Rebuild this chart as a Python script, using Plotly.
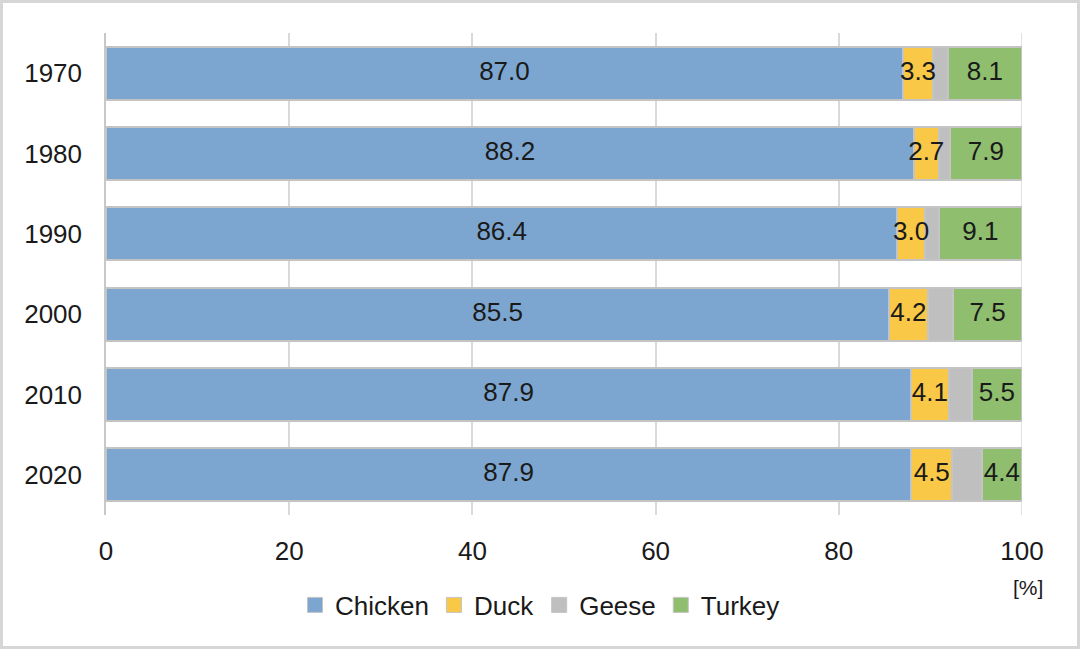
import plotly.graph_objects as go

years = ["1970", "1980", "1990", "2000", "2010", "2020"]
chicken = [87.0, 88.2, 86.4, 85.5, 87.9, 87.9]
duck = [3.3, 2.7, 3.0, 4.2, 4.1, 4.5]
geese = [1.6, 1.2, 1.5, 2.8, 2.5, 3.2]
turkey = [8.1, 7.9, 9.1, 7.5, 5.5, 4.4]
series_names = ["Chicken", "Duck", "Geese", "Turkey"]
colors = ["#7CA6CF", "#F9C846", "#BFBFBF", "#8FBE6E"]
show_text = [True, True, False, True]

W, H = 1080, 649
L, R, T, B = 106, 58, 33, 134
pw, ph = W - L - R, H - T - B
FONT = "Arial, Liberation Sans, sans-serif"
FS = 26

series = [chicken, duck, geese, turkey]

fig = go.Figure()
for name, vals, col in zip(series_names, series, colors):
    fig.add_trace(go.Bar(
        y=years, x=vals, name=name, orientation="h",
        marker=dict(color=col, line=dict(color="#C4C4C4", width=2)),
        showlegend=False, hoverinfo="skip",
    ))

# value labels on top of all bars
base = [0.0] * len(years)
for name, vals, st in zip(series_names, series, show_text):
    mids = [b + v / 2 for b, v in zip(base, vals)]
    if st:
        fig.add_trace(go.Scatter(
            x=mids, y=years, mode="text", text=[f"{v:.1f}" for v in vals],
            textposition="middle center",
            textfont=dict(family=FONT, size=FS, color="#1a1a1a"),
            showlegend=False, hoverinfo="skip", cliponaxis=False,
        ))
    base = [b + v for b, v in zip(base, vals)]

# legend entries
for name, col in zip(series_names, colors):
    fig.add_trace(go.Scatter(
        x=[None], y=[None], mode="markers", name=name,
        marker=dict(symbol="square", size=15, color=col, line=dict(color="#C4C4C4", width=1)),
    ))

def px_x(p):
    return (p - L) / pw

def px_y(p):
    return (H - B - p) / ph

fig.update_layout(
    barmode="stack",
    bargap=0.34,
    width=W, height=H,
    margin=dict(l=L, r=R, t=T, b=B),
    paper_bgcolor="white",
    plot_bgcolor="white",
    font=dict(family=FONT, size=FS, color="#1a1a1a"),
    xaxis=dict(range=[0, 100], dtick=20, showgrid=True, gridcolor="#D9D9D9", gridwidth=1.5,
               zeroline=False, showline=False, ticks="", ticklabelstandoff=18,
               tickfont=dict(size=FS, color="#1a1a1a")),
    yaxis=dict(autorange="reversed", showgrid=False, zeroline=False, showline=True,
               linecolor="#C8C8C8", linewidth=1.5, ticks="", ticklabelstandoff=17,
               tickfont=dict(size=FS, color="#1a1a1a")),
    legend=dict(orientation="h", x=px_x(540), xanchor="center", y=px_y(605), yanchor="middle",
                font=dict(size=FS, color="#1a1a1a"), traceorder="normal",
                itemwidth=30, tracegroupgap=0),
    showlegend=True,
    annotations=[dict(text="[%]", x=px_x(1028), y=px_y(587), xref="paper", yref="paper",
                      xanchor="center", yanchor="middle",
                      showarrow=False, font=dict(size=21, color="#1a1a1a"))],
    shapes=[
        dict(type="line", xref="x", yref="paper", x0=100, x1=100, y0=0, y1=1,
             line=dict(color="#D9D9D9", width=1.5), layer="below"),
        dict(type="rect", xref="paper", yref="paper",
             x0=px_x(1.5), x1=px_x(W - 1.5), y0=px_y(H - 1.5), y1=px_y(1.5),
             line=dict(color="#D6D6D6", width=3), fillcolor="rgba(0,0,0,0)"),
    ],
)

fig.write_html("out.html")
